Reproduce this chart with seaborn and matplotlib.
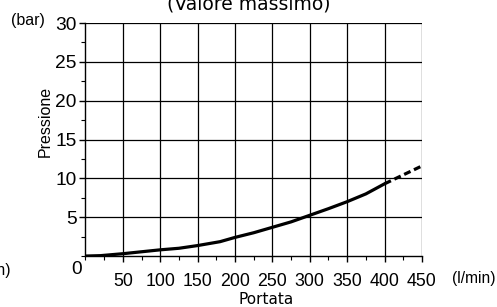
import numpy as np
import pandas as pd
import matplotlib
matplotlib.use("Agg")
import matplotlib.pyplot as plt
import seaborn as sns
from matplotlib.ticker import MultipleLocator

# Curva portata / pressione
portata = [0, 20, 50, 100, 125, 150, 180, 200, 225, 250, 275, 300, 325, 350, 375, 400]
pressione = [0.0, 0.05, 0.3, 0.8, 1.0, 1.35, 1.85, 2.4, 3.0, 3.7, 4.4, 5.25, 6.1, 7.0, 8.0, 9.3]
# tratto estrapolato (tratteggiato)
portata_ext = [400, 450]
pressione_ext = [9.3, 11.6]

x_ticks = [50, 100, 150, 200, 250, 300, 350, 400, 450]
y_ticks = [5, 10, 15, 20, 25, 30]

sns.set_style("ticks")
plt.rcParams['font.family'] = ['Liberation Sans', 'DejaVu Sans']
plt.rcParams['text.color'] = 'black'
plt.rcParams['xtick.color'] = 'black'
plt.rcParams['ytick.color'] = 'black'

fig = plt.figure(figsize=(4.97, 3.07), dpi=100)
ax = fig.add_axes([0.172, 0.166, 0.677, 0.759])

df = pd.DataFrame({"Portata": portata, "Pressione": pressione})
df_ext = pd.DataFrame({"Portata": portata_ext, "Pressione": pressione_ext})
sns.lineplot(data=df, x="Portata", y="Pressione", ax=ax, color="black", lw=2.3)
sns.lineplot(data=df_ext, x="Portata", y="Pressione", ax=ax, color="black", lw=2.3,
             linestyle=(0, (2.2, 1.2)))

ax.set_xlim(0, 450)
ax.set_ylim(0, 30)
ax.set_xticks(x_ticks)
ax.set_yticks(y_ticks)
ax.xaxis.set_minor_locator(MultipleLocator(25))
ax.yaxis.set_minor_locator(MultipleLocator(2.5))
ax.grid(True, which="major", color="black", lw=0.9)
ax.tick_params(axis="both", which="both", direction="out", color="black")
ax.tick_params(axis="both", which="major", length=4, width=1)
ax.tick_params(axis="both", which="minor", length=3, width=0.8)
ax.tick_params(axis="x", labelsize=12.8, pad=8)
ax.tick_params(axis="y", labelsize=13.8, pad=2.5)
ax.set_xlabel("")
ax.set_ylabel("")
for s in ["top", "right"]:
    ax.spines[s].set_visible(False)
for s in ["left", "bottom"]:
    ax.spines[s].set_color("black")
    ax.spines[s].set_linewidth(1)

W, H = 497, 307
fig.text(77 / W, 1 - 270 / H, "0", fontsize=13.8, ha="center", va="center")
fig.text(45 / W, 1 - 121 / H, "Pressione", fontsize=11.5, rotation=90, ha="center", va="center")
fig.text(266 / W, 1 - 300 / H, "Portata", fontsize=11, ha="center", va="center",
         family="DejaVu Sans")
fig.text(249 / W, 1 - 9 / H, "(Valore massimo)", fontsize=13.5, ha="center", va="baseline",
         family="DejaVu Sans")
fig.text(28 / W, 1 - 21 / H, "(bar)", fontsize=11.5, ha="center", va="center")
fig.text(474 / W, 1 - 278 / H, "(l/min)", fontsize=11.2, ha="center", va="center")
fig.text(10 / W, 1 - 270 / H, "(l/min)", fontsize=11.2, ha="right", va="center")

fig.savefig("out.png", dpi=100)
